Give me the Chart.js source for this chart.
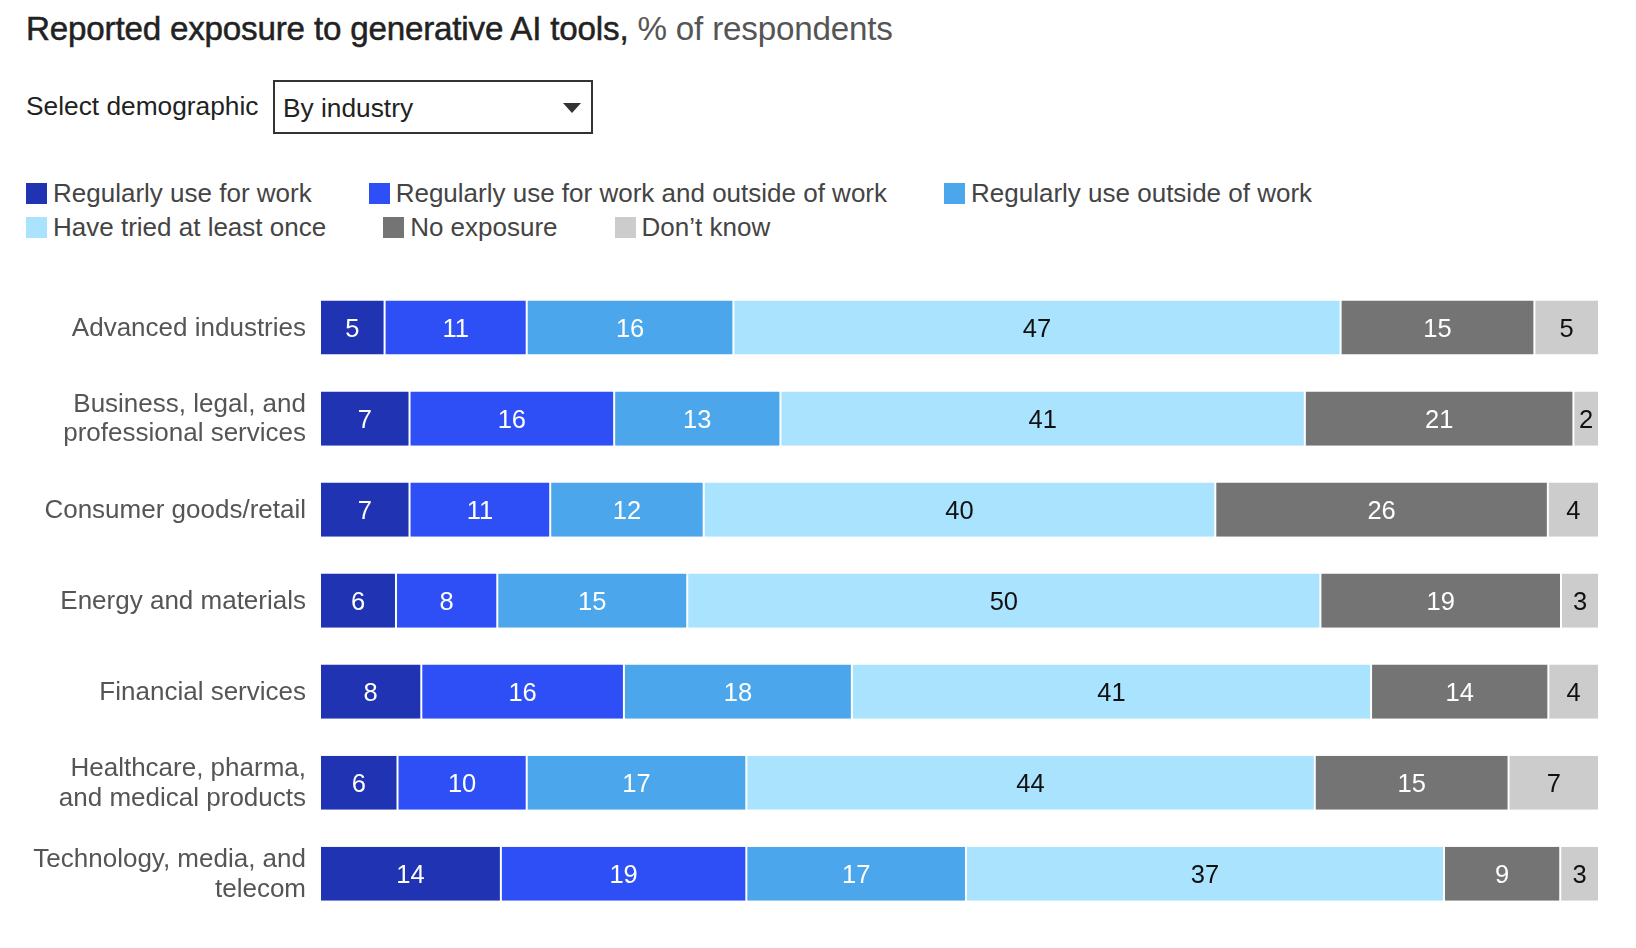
<!DOCTYPE html>
<html>
<head>
<meta charset="utf-8">
<script src="https://cdn.jsdelivr.net/npm/chart.js@4/dist/chart.umd.min.js"></script>
<style>
  html, body { margin:0; padding:0; background:#fff; }
  body { width:1636px; height:948px; position:relative; overflow:hidden; font-family:"Liberation Sans", Arial, sans-serif; color:#222; }
  #title { position:absolute; left:26px; top:10px; font-size:33.2px; white-space:nowrap; color:#222; letter-spacing:-0.2px; }
  #title b { font-weight:500; -webkit-text-stroke:0.5px #222; }
  #title span { color:#555; font-weight:300; }
  #sel { position:absolute; left:26px; top:91px; font-size:26.3px; color:#222; }
  #box { position:absolute; left:273px; top:80px; width:320px; height:54px; border:2px solid #333; box-sizing:border-box; }
  #box .t { position:absolute; left:8px; top:11px; font-size:26.3px; color:#222; }
  #box .arr { position:absolute; right:10px; top:21px; width:0; height:0; border-left:9px solid transparent; border-right:9px solid transparent; border-top:10px solid #333; }
  #legend { position:absolute; left:26px; top:180px; width:1400px; display:flex; flex-wrap:wrap; column-gap:57px; row-gap:4px; }
  .li { display:flex; align-items:center; font-size:26px; color:#444; height:26px; line-height:26px; white-space:nowrap; }
  .sw { width:21px; height:21px; margin-right:6px; display:inline-block; }
  #c { position:absolute; left:0; top:0; }
</style>
</head>
<body>
<div id="title"><b>Reported exposure to generative AI tools,</b> <span>% of respondents</span></div>
<div id="sel">Select demographic</div>
<div id="box"><div class="t">By industry</div><div class="arr"></div></div>
<div id="legend"></div>
<canvas id="c" width="1636" height="948"></canvas>
<script>
const categories = [
  ["Advanced industries"],
  ["Business, legal, and", "professional services"],
  ["Consumer goods/retail"],
  ["Energy and materials"],
  ["Financial services"],
  ["Healthcare, pharma,", "and medical products"],
  ["Technology, media, and", "telecom"]
];
const seriesNames = ["Regularly use for work", "Regularly use for work and outside of work", "Regularly use outside of work", "Have tried at least once", "No exposure", "Don\u2019t know"];
const useForWork        = [5, 7, 7, 6, 8, 6, 14];
const useWorkAndOutside = [11, 16, 11, 8, 16, 10, 19];
const useOutsideWork    = [16, 13, 12, 15, 18, 17, 17];
const triedOnce         = [47, 41, 40, 50, 41, 44, 37];
const noExposure        = [15, 21, 26, 19, 14, 15, 9];
const dontKnow          = [5, 2, 4, 3, 4, 7, 3];
const colors = ["#1f33b3", "#2e4ff5", "#4ba6ec", "#aae3fd", "#747474", "#cccccc"];
const labelColors = ["#fff", "#fff", "#fff", "#111", "#fff", "#111"];

const raw = [useForWork, useWorkAndOutside, useOutsideWork, triedOnce, noExposure, dontKnow];
const totals = categories.map((_, i) => raw.reduce((s, arr) => s + arr[i], 0));

// legend
const lg = document.getElementById('legend');
seriesNames.forEach((n, i) => {
  const d = document.createElement('div'); d.className = 'li';
  d.innerHTML = '<span class="sw" style="background:' + colors[i] + '"></span>' + n;
  lg.appendChild(d);
  if (i === 2) { const br = document.createElement('div'); br.style.flexBasis = '100%'; br.style.height = '0'; lg.appendChild(br); }
});

const FONT = '"Liberation Sans", Arial, sans-serif';
const datasets = raw.map((arr, k) => ({
  label: seriesNames[k],
  data: arr.map((v, i) => v / totals[i] * 100),
  rawValues: arr,
  backgroundColor: colors[k],
  borderColor: '#ffffff',
  borderWidth: {left: 1, right: 1, top: 0, bottom: 0},
  borderSkipped: false,
  categoryPercentage: 1,
  barPercentage: 0.595
}));

const valueLabels = {
  id: 'valueLabels',
  afterDatasetsDraw(chart) {
    const ctx = chart.ctx;
    ctx.save();
    ctx.font = '25.5px ' + FONT;
    ctx.textAlign = 'center';
    ctx.textBaseline = 'middle';
    chart.data.datasets.forEach((ds, k) => {
      const meta = chart.getDatasetMeta(k);
      meta.data.forEach((bar, i) => {
        const x = (bar.x + bar.base) / 2;
        ctx.fillStyle = labelColors[k];
        ctx.fillText(String(ds.rawValues[i]), x, bar.y + 2);
      });
    });
    ctx.restore();
  }
};

new Chart(document.getElementById('c'), {
  type: 'bar',
  data: { labels: categories, datasets },
  options: {
    indexAxis: 'y',
    responsive: false,
    animation: false,
    layout: { padding: { top: 282, bottom: 27, left: 0, right: 37 } },
    plugins: { legend: { display: false }, tooltip: { enabled: false } },
    scales: {
      x: { stacked: true, min: 0, max: 100, display: false },
      y: {
        stacked: true,
        grid: { display: false, drawTicks: false },
        border: { display: false },
        ticks: { color: '#555', font: { size: 26, family: FONT, lineHeight: 1.13 }, padding: 14, labelOffset: 1 },
        afterFit(scale) { scale.width = 320; }
      }
    }
  },
  plugins: [valueLabels]
});
</script>
</body>
</html>
